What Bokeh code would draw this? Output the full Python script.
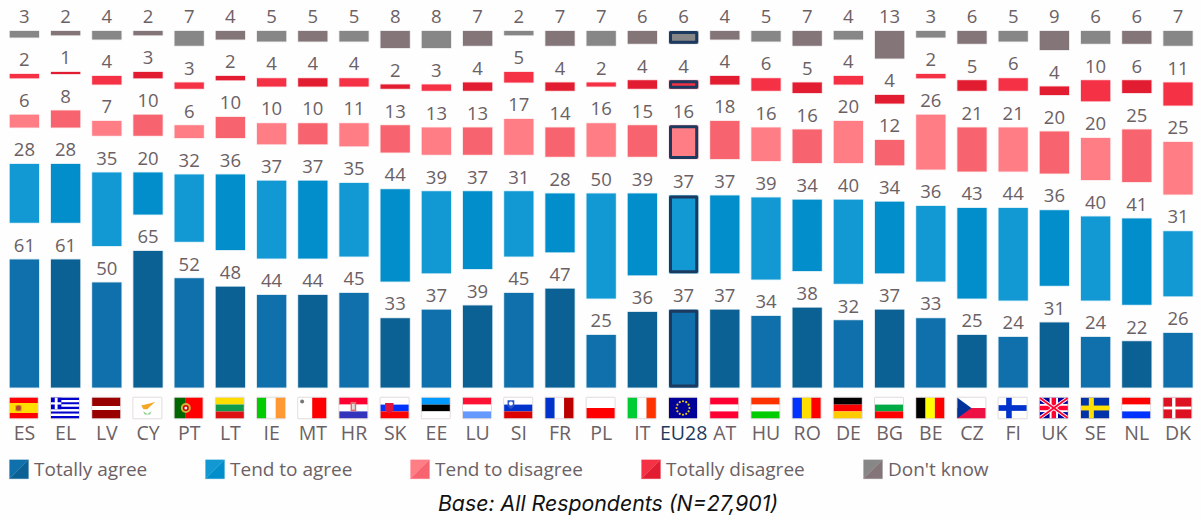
from math import cos, sin, pi
from bokeh.plotting import figure
from bokeh.models import Range1d
from bokeh.core.properties import value
from bokeh.embed import file_html
from bokeh.resources import INLINE

countries = ["ES","EL","LV","CY","PT","LT","IE","MT","HR","SK","EE","LU","SI","FR","PL","IT","EU28","AT","HU","RO","DE","BG","BE","CZ","FI","UK","SE","NL","DK"]
totally_agree    = [61,61,50,65,52,48,44,44,45,33,37,39,45,47,25,36,37,37,34,38,32,37,33,25,24,31,24,22,26]
tend_agree       = [28,28,35,20,32,36,37,37,35,44,39,37,31,28,50,39,37,37,39,34,40,34,36,43,44,36,40,41,31]
tend_disagree    = [6,8,7,10,6,10,10,10,11,13,13,13,17,14,16,15,16,18,16,16,20,12,26,21,21,20,20,25,25]
totally_disagree = [2,1,4,3,3,2,4,4,4,2,3,4,5,4,2,4,4,4,6,5,4,4,2,5,6,4,10,6,11]
dont_know        = [3,2,4,2,7,4,5,5,5,8,8,7,2,7,7,6,6,4,5,7,4,13,3,6,5,9,6,6,7]
series_names = ["Totally agree","Tend to agree","Tend to disagree","Totally disagree","Don't know"]
series_values = [totally_agree, tend_agree, tend_disagree, totally_disagree, dont_know]
colors_a = ["#1070ab","#1299d4","#ff7d85","#f53145","#878787"]
colors_b = ["#0b6194","#018ecb","#f7646f","#e31d31","#847578"]

W, H = 1201, 520
MARGIN = 0
PITCH = 41.2
PX_PER_PCT = 2.1
GAP_PX = 36.6
BASE_Y = 387.0
BAR_PX = 29.2
FIRST_LEFT = 9.3
TEXT = "#6b6165"
NAVY = "#1c3a5f"

x0_px = FIRST_LEFT + BAR_PX / 2 - MARGIN
p = figure(width=W, height=H, output_backend="svg", toolbar_location=None,
           x_range=Range1d(-x0_px / PITCH, (W - x0_px) / PITCH),
           y_range=Range1d((BASE_Y - MARGIN - H) / PX_PER_PCT, (BASE_Y - MARGIN) / PX_PER_PCT),
           min_border=0, outline_line_color=None, background_fill_color="#fefefe",
           border_fill_color="#ffffff")
p.axis.visible = False
p.grid.visible = False

def dx(px):
    return (px - MARGIN - x0_px) / PITCH
def dy(py):
    return (BASE_Y - py) / PX_PER_PCT

gap = GAP_PX / PX_PER_PCT
n = len(countries)
bottoms = [0.0] * n
eu = countries.index("EU28")
font = value("Open Sans")
border_x = 1.5 / PITCH
border_y = 1.5 / PX_PER_PCT
for s, vals in enumerate(series_values):
    tops = [b + v for b, v in zip(bottoms, vals)]
    fills = [colors_a[s] if i % 2 == 0 else colors_b[s] for i in range(n)]
    p.vbar(x=list(range(n)), width=BAR_PX / PITCH, bottom=bottoms, top=tops,
           fill_color=fills, line_color=fills, line_alpha=0.2, line_width=1.5)
    p.vbar(x=[eu], width=BAR_PX / PITCH - 2 * border_x, bottom=[bottoms[eu] + border_y],
           top=[tops[eu] - border_y], fill_color=None, line_color=NAVY, line_width=3)
    p.text(x=list(range(n)), y=tops, text=[str(v) for v in vals], text_align="center",
           text_baseline="alphabetic", y_offset=-14.3, text_font=font, text_font_size="18.5px",
           text_color=TEXT)
    bottoms = [t + gap for t in tops]

label_colors = [NAVY if c == "EU28" else TEXT for c in countries]
p.text(x=list(range(n)), y=[dy(440.7)] * n, text=countries, text_align="center", y_offset=-8.4,
       text_baseline="alphabetic", text_font=font, text_font_size="19.5px", text_color=label_colors)

FLAG_W, FLAG_H = 28.0, 20.4
FLAG_TOP = 397.3
RED = "#ff0000"; WHITE = "#ffffff"; BLUE = "#0033cc"
H_STRIPES = {
    "ES": [(RED,1),("#ffdd00",2),(RED,1)],
    "LV": [("#990000",2),(WHITE,1),("#990000",2)],
    "CY": [(WHITE,1)],
    "LT": [("#ffdd00",1),("#109a4c",1),("#dd1111",1)],
    "HR": [("#ff0033",1),(WHITE,1),("#3333bb",1)],
    "SK": [(WHITE,1),("#0033ff",1),(RED,1)],
    "EE": [("#0099ff",1),("#000000",1),(WHITE,1)],
    "LU": [("#ff1133",1),(WHITE,1),("#6699ff",1)],
    "SI": [(WHITE,1),(BLUE,1),("#dd0000",1)],
    "PL": [(WHITE,1),(RED,1)],
    "AT": [("#ff0033",1),(WHITE,1),("#ff0033",1)],
    "HU": [("#ff3300",1),(WHITE,1),("#00cc00",1)],
    "DE": [("#000000",1),(RED,1),("#ffcc00",1)],
    "BG": [(WHITE,1),("#00aa44",1),(RED,1)],
    "CZ": [(WHITE,1),("#ee1144",1)],
    "NL": [(RED,1),(WHITE,1),("#0033ff",1)],
    "FI": [(WHITE,1)],
    "SE": [("#0033aa",1)],
    "DK": [("#dd1122",1)],
    "EU28": [("#000099",1)],
    "UK": [("#000099",1)],
    "EL": [("#0000cc",1),(WHITE,1)]*4 + [("#0000cc",1)],
}
V_STRIPES = {
    "PT": [("#006600",2),(RED,3)],
    "IE": [("#00cc00",1),(WHITE,1),("#ff9933",1)],
    "MT": [(WHITE,1),(RED,1)],
    "FR": [(BLUE,1),(WHITE,1),("#bb0000",1)],
    "IT": [("#00cc33",1),(WHITE,1),("#ff3300",1)],
    "RO": [("#0033ff",1),("#ffdd00",1),(RED,1)],
    "BE": [("#000000",1),("#ffff00",1),(RED,1)],
}
qx0, qx1, qy0, qy1, qc = [], [], [], [], []
tx, ty, tc = [], [], []
sx, sy, sc, ss = [], [], [], []

def uu(i, u):
    return dx(FIRST_LEFT + i * PITCH + u * FLAG_W)
def vv(t):
    return dy(FLAG_TOP + t * FLAG_H)
def box(i, u0, u1, t0, t1, c):
    qx0.append(uu(i, u0)); qx1.append(uu(i, u1)); qy0.append(vv(t1)); qy1.append(vv(t0)); qc.append(c)
def poly(i, pts, c):
    tx.append([uu(i, a) for a, b in pts]); ty.append([vv(b) for a, b in pts]); tc.append(c)
def dot(i, u, t, c, size):
    sx.append(uu(i, u)); sy.append(vv(t)); sc.append(c); ss.append(size)
def cross(i, cu, cv, wu, wv, c):
    box(i, cu - wu / 2, cu + wu / 2, 0, 1, c)
    box(i, 0, 1, cv - wv / 2, cv + wv / 2, c)

for i, c in enumerate(countries):
    if c in H_STRIPES:
        st = H_STRIPES[c]; tot = sum(w for _, w in st); a = 0
        for col, w in st:
            box(i, 0, 1, a / tot, (a + w) / tot, col); a += w
    else:
        st = V_STRIPES[c]; tot = sum(w for _, w in st); a = 0
        for col, w in st:
            box(i, a / tot, (a + w) / tot, 0, 1, col); a += w
    if c == "ES":
        box(i, .2, .42, .36, .66, "#d98a2b"); dot(i, .31, .5, "#b5452c", 5)
    if c == "EL":
        box(i, 0, .37, 0, 5 / 9, "#0000cc"); cross_u = .185
        box(i, cross_u - .05, cross_u + .05, 0, 5 / 9, WHITE); box(i, 0, .37, 2 / 9, 3 / 9, WHITE)
    if c == "CY":
        poly(i, [(.28,.38),(.5,.3),(.78,.2),(.6,.42),(.5,.56),(.36,.56)], "#f5a623")
        poly(i, [(.35,.66),(.5,.8),(.65,.66),(.6,.82),(.4,.82)], "#8fd08f")
    if c == "PT":
        dot(i, .4, .5, "#d8b13a", 10); dot(i, .4, .5, "#cc0000", 6); dot(i, .4, .5, "#eeeeee", 3)
    if c == "MT":
        dot(i, .14, .18, "#777777", 4)
    if c == "HR":
        box(i, .4, .6, .2, .66, "#e26a6a"); box(i, .45, .55, .3, .58, "#dddddd")
    if c == "SK":
        poly(i, [(.16,.25),(.46,.25),(.46,.6),(.31,.8),(.16,.6)], "#e0143c")
        box(i, .29, .33, .3, .62, WHITE); box(i, .22, .4, .4, .46, WHITE)
    if c == "SI":
        poly(i, [(.12,.12),(.36,.12),(.36,.42),(.24,.55),(.12,.42)], "#2a55c8")
        dot(i, .24, .28, WHITE, 4)
    if c == "CZ":
        poly(i, [(0,0),(.5,.5),(0,1)], "#003399")
    if c == "FI":
        cross(i, .37, .5, .2, .28, BLUE)
    if c == "SE":
        cross(i, .37, .5, .18, .24, "#ffe000")
    if c == "DK":
        cross(i, .37, .5, .12, .14, WHITE)
    if c == "EU28":
        for k in range(12):
            dot(i, .5 + .23 * cos(k * pi / 6), .5 + .33 * sin(k * pi / 6), "#e8c81a", 2.2)
    if c == "UK":
        for pts, col, in [
            ([(0,0),(.1,0),(1,.88),(1,1),(.9,1),(0,.12)], WHITE),
            ([(1,0),(.9,0),(0,.88),(0,1),(.1,1),(1,.12)], WHITE),
            ([(0,0),(.05,0),(1,.94),(1,1),(.95,1),(0,.06)], "#ff0033"),
            ([(1,0),(.95,0),(0,.94),(0,1),(.05,1),(1,.06)], "#ff0033"),
        ]:
            poly(i, pts, col)
        cross(i, .5, .5, .3, .4, WHITE)
        cross(i, .5, .5, .16, .22, "#ff0033")

p.rect(x=[uu(i, .5) for i in range(n)], y=[vv(.5)] * n, width=FLAG_W / PITCH,
       height=FLAG_H / PX_PER_PCT, fill_color=None, line_color="#e4dcdc", line_width=2)
p.quad(left=qx0, right=qx1, bottom=qy0, top=qy1, fill_color=qc, line_color=None)
p.patches(xs=tx, ys=ty, fill_color=tc, line_color=None)
p.scatter(x=sx, y=sy, size=ss, fill_color=sc, line_color=None)

legend_swatch_px = [9.0, 205.0, 410.0, 641.0, 863.0]
SW = 19.0
LEG_TOP = 459.3
for left, name, a, b in zip(legend_swatch_px, series_names, colors_a, colors_b):
    l, r, t, bm = dx(left), dx(left + SW), dy(LEG_TOP), dy(LEG_TOP + SW)
    p.patches(xs=[[l, r, l], [r, r, l]], ys=[[t, t, bm], [t, bm, bm]], fill_color=[a, b],
              line_color=[a, b], line_width=0.5, line_alpha=0.4)
    p.text(x=[dx(left + SW + 5.5)], y=[dy(476.6)], text=[name], text_align="left", y_offset=-8.2,
           text_baseline="alphabetic", text_font=font, text_font_size="19px", text_color=TEXT)

p.text(x=[dx(607.5)], y=[dy(512)], text=["Base: All Respondents (N=27,901)"], text_align="center",
       y_offset=-9.2, text_baseline="alphabetic", text_font=value("Inter"), text_font_style="italic",
       text_font_size="21.3px", text_color="#111111")

open("out.html", "w").write(file_html(p, INLINE))
